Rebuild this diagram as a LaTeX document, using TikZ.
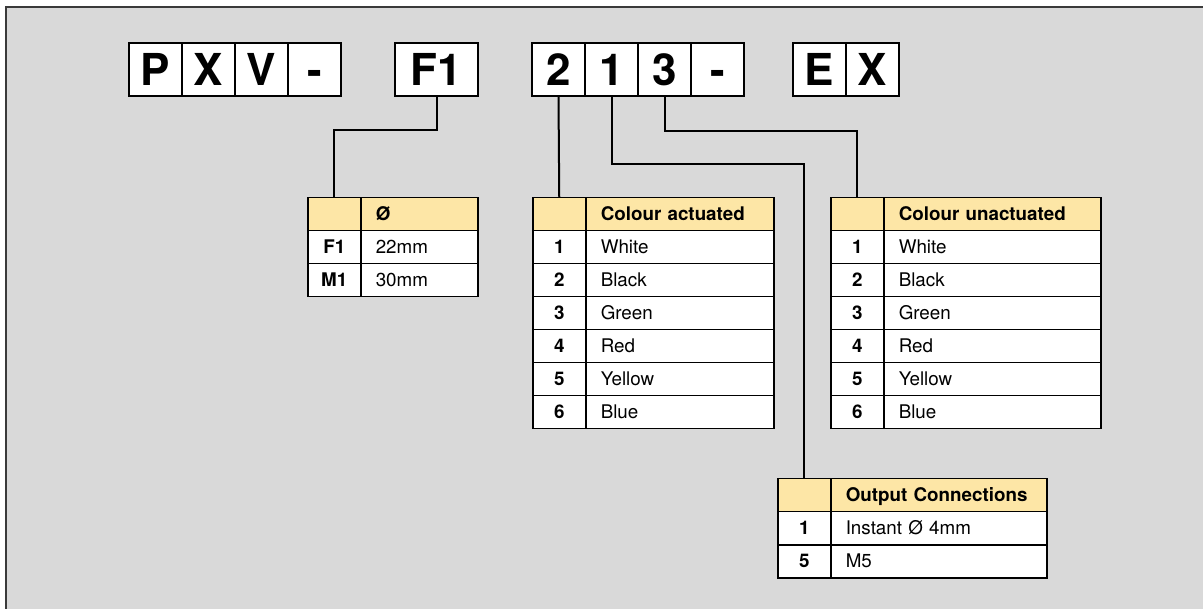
\documentclass[tikz,border=0pt]{standalone}
\usepackage{fontspec}
\setmainfont{TeX Gyre Heros}
\usepackage{tikz}

\definecolor{bggray}{HTML}{D9D9D9}
\definecolor{framegray}{HTML}{3A3A3A}
\definecolor{headyellow}{HTML}{FDE6A6}

\newcommand\letterfont{\fontsize{44}{44}\selectfont\bfseries}
\newcommand\cellfont{\fontsize{18.8}{20}\selectfont}
\newcommand\cellbold{\fontsize{18.8}{20}\selectfont\bfseries}

\tikzset{
  letterbox/.style={draw,line width=2pt,fill=white,minimum width=53pt,minimum height=53pt,inner sep=0pt,text height=32pt,text depth=0pt,font=\letterfont},
  numcell/.style={draw,line width=1.5pt,fill=white,anchor=north west,minimum width=53pt,minimum height=33pt,inner sep=0pt,text height=13.5pt,text depth=0pt,font=\cellbold},
  txtcell/.style={draw,line width=1.5pt,fill=white,anchor=north west,minimum height=33pt,inner xsep=15pt,inner ysep=0pt,align=left,text height=13.5pt,text depth=0pt,font=\cellfont},
  headcell/.style={fill=headyellow,font=\cellbold},
  conn/.style={line width=2pt}
}

\begin{document}
\begin{tikzpicture}[x=1pt,y=-1pt]
  \useasboundingbox (0,0) rectangle (1203,609);
  \fill[bggray] (6,7) rectangle (1203,609);
  \draw[framegray,line width=2pt] (6,609) -- (6,7) -- (1203,7);

  % type code letters
  \foreach \name/\x/\txt in {cp/155/P,cx/208.5/X,cv/261.5/V,cd1/314.5/-,c2/558.5/2,c1/611.5/1,c3/664.5/3,cd2/717.5/-,ce/819.5/E,cx2/872.5/X}
    \node[letterbox] (\name) at (\x,69.5) {\txt};
  \node[letterbox,minimum width=83pt] (f1) at (436.5,69.5) {F1};

  % diameter table
  \node[numcell,headcell] (dia-n0) at (307,197) {};
  \node[txtcell,headcell,text width=87pt] (dia-t0) at (360,197) {Ø};
  \foreach \n/\t [count=\i] in {F1/22mm,M1/30mm}{
    \node[numcell] (dia-n\i) at (307,197+33*\i) {\n};
    \node[txtcell,text width=87pt] (dia-t\i) at (360,197+33*\i) {\t};
  }

  % colour actuated table
  \node[numcell,headcell] (act-n0) at (532,197) {};
  \node[txtcell,headcell,text width=158pt] (act-t0) at (585,197) {Colour actuated};
  \foreach \t [count=\i] in {White,Black,Green,Red,Yellow,Blue}{
    \node[numcell] (act-n\i) at (532,197+33*\i) {\i};
    \node[txtcell,text width=158pt] (act-t\i) at (585,197+33*\i) {\t};
  }

  % colour unactuated table
  \node[numcell,headcell] (una-n0) at (830,197) {};
  \node[txtcell,headcell,text width=187pt] (una-t0) at (883,197) {Colour unactuated};
  \foreach \t [count=\i] in {White,Black,Green,Red,Yellow,Blue}{
    \node[numcell] (una-n\i) at (830,197+33*\i) {\i};
    \node[txtcell,text width=187pt] (una-t\i) at (883,197+33*\i) {\t};
  }

  % output connections table
  \node[numcell,headcell] (out-n0) at (777,478) {};
  \node[txtcell,headcell,text width=186pt] (out-t0) at (830,478) {Output Connections};
  \foreach \n/\t [count=\i] in {1/Instant Ø 4mm,5/M5}{
    \node[numcell] (out-n\i) at (777,478+33*\i) {\n};
    \node[txtcell,text width=186pt] (out-t\i) at (830,478+33*\i) {\t};
  }

  % connectors
  \draw[conn] (f1.south) -- ++(0,33) -| (dia-n0.north);
  \draw[conn] (c2.south) -- (act-n0.north);
  \draw[conn] (c1.south) -- ++(0,67) -| (out-n0.north);
  \draw[conn] (c3.south) -- ++(0,34) -| (una-n0.north);
\end{tikzpicture}
\end{document}
